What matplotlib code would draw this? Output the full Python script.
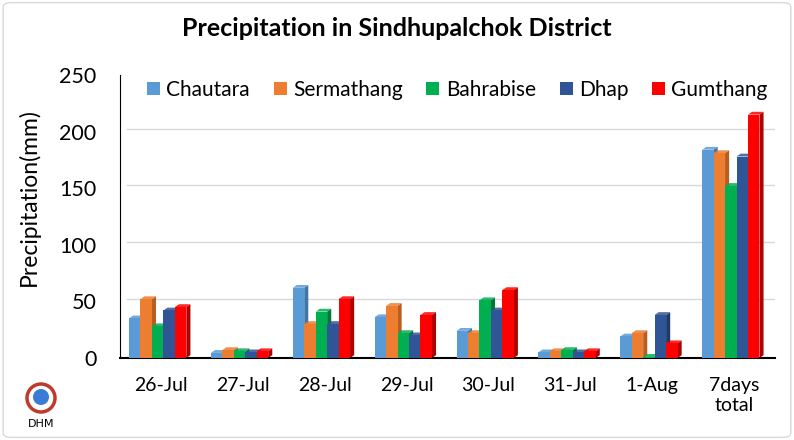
import numpy as np
import matplotlib.pyplot as plt
from matplotlib.patches import FancyBboxPatch, Circle

plt.rcParams['font.family'] = ['Lato', 'DejaVu Sans']

categories = ['26-Jul', '27-Jul', '28-Jul', '29-Jul', '30-Jul', '31-Jul', '1-Aug', '7days\ntotal']
stations = ['Chautara', 'Sermathang', 'Bahrabise', 'Dhap', 'Gumthang']
chautara = [35, 4.5, 62, 36, 24, 5, 19, 184]
sermathang = [52, 7, 30, 46, 22, 6, 22, 181]
bahrabise = [28, 6, 41, 22, 51, 7, 1, 152]
dhap = [42, 5, 30, 20, 42, 5, 38, 178]
gumthang = [45, 6, 52, 38, 60, 6, 13, 215]
colors = ['#5B9BD5', '#ED7D31', '#00B050', '#2F5597', '#FF0000']
side_colors = ['#3F77A8', '#B85E20', '#007A38', '#1E3A6A', '#B00000']

series = [chautara, sermathang, bahrabise, dhap, gumthang]

fig = plt.figure(figsize=(7.94, 4.4), dpi=100)
ax = fig.add_axes([120 / 794, 82 / 440, 655 / 794, 283 / 440])

x = np.arange(len(categories))
w = 0.14
dx, dy = 0.05, 2.5
for i, (vals, c, sc) in enumerate(zip(series, colors, side_colors)):
    pos = x - 2.5 * w + i * w + w / 2 - 0.04
    ax.bar(pos, vals, w, color=c, label=stations[i], zorder=3)
    for p, v in zip(pos, vals):
        x1 = p + w / 2
        ax.fill([x1, x1 + dx, x1 + dx, x1], [0, dy, v + dy, v], color=sc, zorder=2, lw=0)
        ax.fill([p - w / 2, p - w / 2 + dx, x1 + dx, x1], [v, v + dy, v + dy, v], color=c, zorder=2, lw=0, alpha=0.85)

ax.set_xlim(-0.5, 7.5)
ax.set_ylim(0, 250)
ax.set_yticks(np.arange(0, 251, 50))
ax.set_xticks(x)
ax.set_xticklabels(categories, fontsize=14)
ax.tick_params(axis='y', labelsize=15.5, length=0, pad=17)
ax.tick_params(axis='x', length=0, pad=14)
for yv in np.arange(50, 251, 50):
    ax.plot([-0.42, 7.5], [yv + dy, yv + dy], color='#D9D9D9', lw=1, zorder=1)
for s in ['top', 'right']:
    ax.spines[s].set_visible(False)
ax.spines['left'].set_color('#000000')
ax.spines['bottom'].set_linewidth(1.5)
ax.set_ylabel('Precipitation(mm)', fontsize=16.5)
ax.yaxis.set_label_coords(-0.122, 0.57)

ax.legend(loc='upper center', bbox_to_anchor=(0.515, 1.05), ncol=5, frameon=False,
          fontsize=15, handlelength=0.62, handleheight=0.62, handletextpad=0.3, columnspacing=1.15)

fig.text(0.5, 0.935, 'Precipitation in Sindhupalchok District', ha='center', va='center',
         fontsize=18, fontweight='bold')

fig.patches.append(FancyBboxPatch((0.004, 0.006), 0.992, 0.988, boxstyle='round,pad=0,rounding_size=0.01',
                                  transform=fig.transFigure, fill=False, ec='#D9D9D9', lw=1))
fig.patches.append(Circle((0.41, 0.42), 0.14, transform=fig.dpi_scale_trans,
                          fc='white', ec='#C0392B', lw=2.5))
fig.patches.append(Circle((0.41, 0.43), 0.08, transform=fig.dpi_scale_trans,
                          fc='#3A7BD5', ec='none'))
fig.text(41 / 794, 1 - 424 / 440, 'DHM', ha='center', va='center', fontsize=8, family='DejaVu Sans')

fig.savefig('out.png', dpi=100)
